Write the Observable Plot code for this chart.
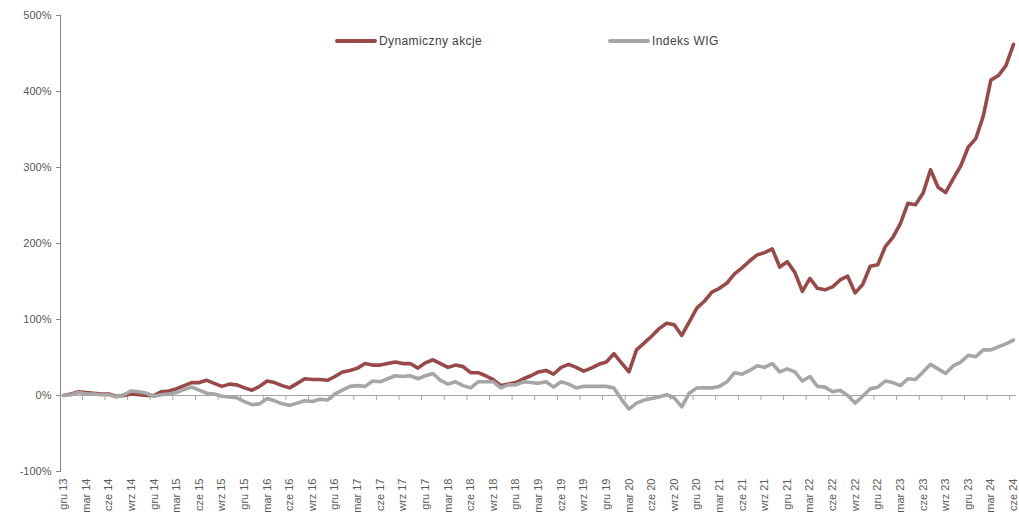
<!DOCTYPE html>
<html>
<head>
<meta charset="utf-8">
<script src="https://cdn.jsdelivr.net/npm/d3@7"></script>
<script src="https://cdn.jsdelivr.net/npm/@observablehq/plot@0.6"></script>
<style>
  html, body { margin: 0; padding: 0; background: #fff; }
  #wrap { position: relative; width: 1019px; height: 516px; overflow: hidden; }
  #legend { position: absolute; top: 34px; left: 0; width: 1019px; height: 16px;
    font-family: "Liberation Sans", Arial, sans-serif; font-size: 12px; color: #404040; letter-spacing: 0.4px; }
  .item { position: absolute; display: flex; align-items: center; white-space: nowrap; }
  .sw { display: inline-block; width: 42px; height: 4px; border-radius: 2px; margin-right: 2px; }
  svg { font-family: "Liberation Sans", Arial, sans-serif; }
</style>
</head>
<body>
<div id="wrap"><div id="legend"></div></div>
<script>
// ---- data ----
const seriesNames = ["Dynamiczny akcje", "Indeks WIG"];
const seriesColors = ["#994a48", "#a6a6a6"];

const quarterLabels = ["gru 13","mar 14","cze 14","wrz 14","gru 14","mar 15","cze 15","wrz 15","gru 15","mar 16","cze 16","wrz 16","gru 16","mar 17","cze 17","wrz 17","gru 17","mar 18","cze 18","wrz 18","gru 18","mar 19","cze 19","wrz 19","gru 19","mar 20","cze 20","wrz 20","gru 20","mar 21","cze 21","wrz 21","gru 21","mar 22","cze 22","wrz 22","gru 22","mar 23","cze 23","wrz 23","gru 23","mar 24","cze 24"];

// monthly values (%), Dec 2013 .. Jun 2024
const dynamiczny = [0,2,5,4,3,2,2,-1,0,2,1,0,0,5,6,9,13,17,17,20,16,12,15,14,10,7,12,19,17,13,10,16,22,21,21,20,25,31,33,36,42,40,40,42,44,42,42,36,43,47,42,37,40,38,30,30,26,21,13,15,17,22,26,31,33,28,37,41,37,32,36,41,44,55,43,31,60,69,78,88,95,93,79,97,115,124,136,141,148,160,168,177,185,188,193,169,176,162,137,154,141,139,143,152,157,135,146,170,172,196,208,226,253,251,266,297,274,267,285,302,327,338,368,415,421,434,462];

const wig = [0,1,4,2,2,1,1,-2,1,6,5,3,-1,1,2,4,8,11,7,3,2,-1,-2,-3,-8,-12,-11,-4,-7,-11,-13,-10,-7,-8,-5,-6,2,7,12,13,12,19,18,22,26,25,26,22,26,29,20,15,18,13,10,18,18,18,10,14,14,18,17,16,18,11,18,15,10,12,12,12,12,10,-5,-18,-10,-6,-4,-2,1,-3,-15,3,10,10,10,12,18,30,28,33,39,37,42,31,35,31,19,25,12,11,5,7,0,-10,-1,9,11,19,17,13,22,21,31,41,35,29,39,44,53,51,60,60,64,68,73];

const yTicks = [-100, 0, 100, 200, 300, 400, 500];

// ---- build ----
const rows = [];
[dynamiczny, wig].forEach((arr, s) => arr.forEach((v, i) => rows.push({i, v, s: seriesNames[s]})));
const labelIdx = quarterLabels.map((_, k) => k * 3);
const tickIdx = quarterLabels.slice(1).map((_, k) => (k + 1) * 3 - 0.5);

const chart = Plot.plot({
  width: 1019,
  height: 516,
  marginLeft: 60,
  marginRight: 3,
  marginTop: 15,
  marginBottom: 45,
  x: {type: "linear", domain: [-0.4, dynamiczny.length - 0.6]},
  y: {domain: [-100, 500]},
  color: {domain: seriesNames, range: seriesColors},
  marks: [
    Plot.axisY({ticks: yTicks, tickSize: 4, tickPadding: 5, tickFormat: d => d + "%", fontSize: 11, color: "#595959", stroke: "#868686", label: null}),
    Plot.frame({anchor: "left", stroke: "#868686"}),
    Plot.axisX({ticks: labelIdx, tickSize: 0, tickPadding: 7, tickRotate: -90, tickFormat: d => quarterLabels[d / 3], fontSize: 11, color: "#595959", label: null}),
    Plot.ruleY([0], {stroke: "#a6a6a6", strokeWidth: 1.2}),
    Plot.ruleX(tickIdx, {x: d => d, y1: 0, y2: 0, insetBottom: -5, stroke: "#a6a6a6", strokeWidth: 1}),
    Plot.lineY(rows, {x: "i", y: "v", stroke: "s", z: "s", strokeWidth: 3.6, strokeLinejoin: "round", strokeLinecap: "round"})
  ]
});
document.getElementById("wrap").prepend(chart);
chart.style.position = "absolute";
chart.style.left = "0"; chart.style.top = "0";

// legend overlay
const legend = document.getElementById("legend");
const legendLeft = [335, 608];
seriesNames.forEach((n, k) => {
  const it = document.createElement("div");
  it.className = "item";
  it.style.left = legendLeft[k] + "px";
  it.innerHTML = `<span class="sw" style="background:${seriesColors[k]}"></span><span>${n}</span>`;
  legend.appendChild(it);
});
</script>
</body>
</html>
